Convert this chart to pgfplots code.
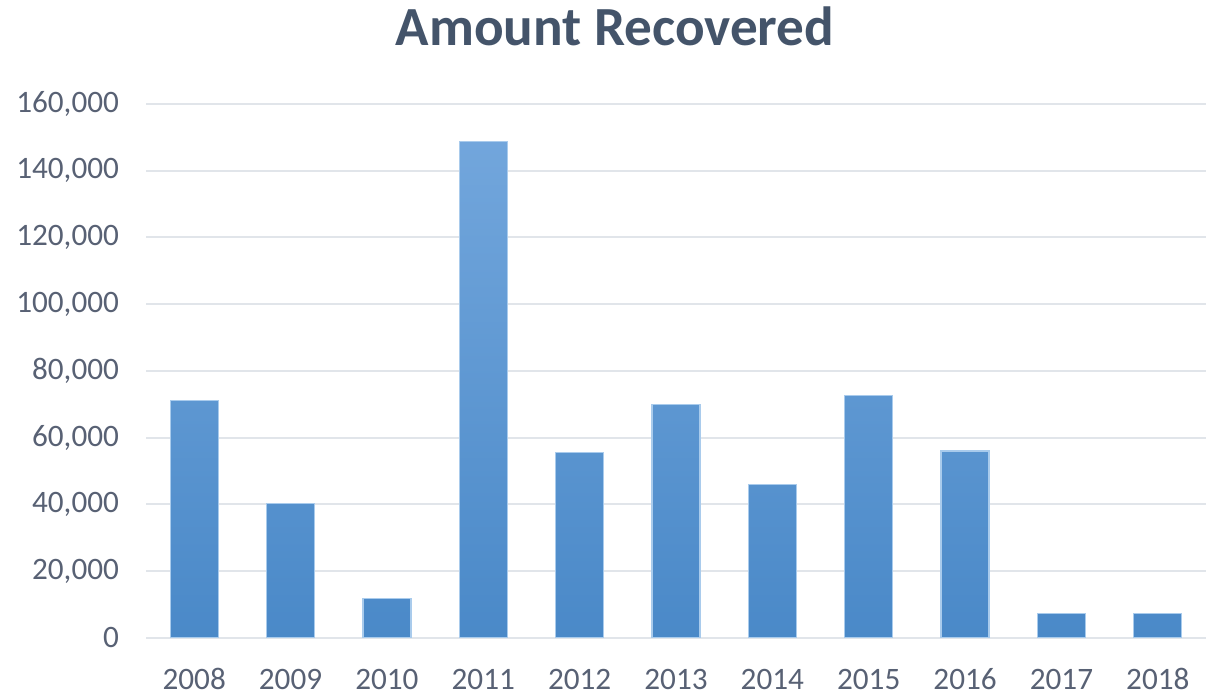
\documentclass[border=0pt]{standalone}
\usepackage{pgfplots}
\pgfplotsset{compat=1.18}
\usepackage{fontspec}
\setmainfont{Carlito}
\definecolor{titlec}{HTML}{44546A}
\definecolor{tickc}{HTML}{586174}
\definecolor{gridc}{HTML}{E1E5EA}
\definecolor{bartop}{HTML}{72A6DC}
\definecolor{barmid}{HTML}{5B9BD5}
\definecolor{barbot}{HTML}{4A89C8}
\definecolor{baredge}{HTML}{A9CBEC}
\begin{document}
\begin{tikzpicture}
\begin{axis}[
  scale only axis,
  width=530pt, height=266.85pt,
  xmin=-0.5, xmax=10.5,
  ymin=0, ymax=160000,
  axis line style={draw=none},
  xtick=data,
  xticklabels={2008,2009,2010,2011,2012,2013,2014,2015,2016,2017,2018},
  ytick={0,20000,40000,60000,80000,100000,120000,140000,160000},
  yticklabels={0,{20,000},{40,000},{60,000},{80,000},{100,000},{120,000},{140,000},{160,000}},
  scaled y ticks=false,
  ymajorgrids,
  grid style={draw=gridc, line width=1pt},
  major tick length=0pt,
  tick label style={font=\fontsize{15.6}{18}\selectfont, text=tickc},
  yticklabel style={xshift=-10pt},
  xticklabel style={anchor=base, yshift=-26pt},
  clip=false,
]
\addplot[ybar, bar width=24pt, draw=baredge, line width=0.6pt,
  top color=bartop, middle color=barmid, bottom color=barbot]
  coordinates {
  (0,71000) (1,40300) (2,11700) (3,148800) (4,55500) (5,70000)
  (6,46000) (7,72500) (8,56000) (9,7300) (10,7300)
  };
\node[anchor=base, font=\fontsize{27.6}{32}\selectfont\bfseries, text=titlec]
  at (rel axis cs:0.4425,1.1087) {Amount Recovered};
\end{axis}
\pgfresetboundingbox
\path ([xshift=-73pt, yshift=-29.15pt]current axis.south west) rectangle ([yshift=52pt]current axis.north east);
\end{tikzpicture}
\end{document}
